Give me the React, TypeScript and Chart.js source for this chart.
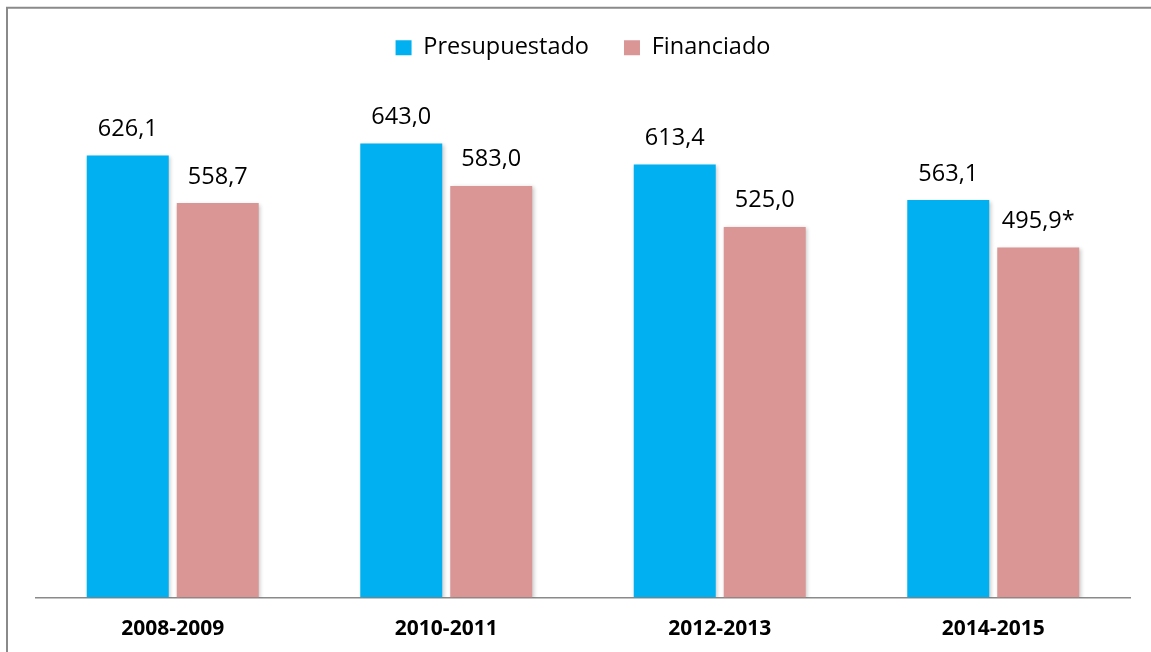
import React, { useEffect, useRef } from "react";
import { Chart, registerables } from "chart.js";

Chart.register(...registerables);

const categories = ["2008-2009", "2010-2011", "2012-2013", "2014-2015"];
const presupuestado = [626.1, 643.0, 613.4, 563.1];
const financiado = [558.7, 583.0, 525.0, 495.9];
const presupuestadoLabels = ["626,1", "643,0", "613,4", "563,1"];
const financiadoLabels = ["558,7", "583,0", "525,0", "495,9*"];
const seriesNames = ["Presupuestado", "Financiado"];

const FONT = "'Open Sans', 'Noto Sans', sans-serif";

const framePlugin = {
  id: "frame",
  afterDraw(chart: any) {
    const ctx = chart.ctx;
    ctx.save();
    ctx.strokeStyle = "#8a8a8a";
    ctx.lineWidth = 2;
    ctx.beginPath();
    ctx.moveTo(7, 660);
    ctx.lineTo(7, 7.7);
    ctx.lineTo(1160, 7.7);
    ctx.stroke();
    ctx.restore();
  },
};

const shadowPlugin = {
  id: "barShadow",
  beforeDatasetDraw(chart: any) {
    const ctx = chart.ctx;
    ctx.save();
    ctx.shadowColor = "rgba(0,0,0,0.22)";
    ctx.shadowBlur = 4;
    ctx.shadowOffsetX = 1.5;
    ctx.shadowOffsetY = 1.5;
  },
  afterDatasetDraw(chart: any) {
    chart.ctx.restore();
  },
};

const valueLabelPlugin = {
  id: "valueLabels",
  afterDatasetsDraw(chart: any) {
    const ctx = chart.ctx;
    const labelSets = [presupuestadoLabels, financiadoLabels];
    ctx.save();
    ctx.font = `23.5px ${FONT}`;
    ctx.fillStyle = "#000000";
    ctx.textAlign = "center";
    ctx.textBaseline = "alphabetic";
    chart.data.datasets.forEach((_ds: any, di: number) => {
      const meta = chart.getDatasetMeta(di);
      meta.data.forEach((bar: any, i: number) => {
        ctx.fillText(labelSets[di][i], bar.x, bar.y - 19.5);
      });
    });
    ctx.restore();
  },
};

export default function App() {
  const ref = useRef<HTMLCanvasElement | null>(null);

  useEffect(() => {
    document.body.style.margin = "0";
    if (!ref.current) return;
    const chart = new Chart(ref.current, {
      type: "bar",
      data: {
        labels: categories,
        datasets: [
          {
            label: seriesNames[0],
            data: presupuestado,
            backgroundColor: "#00B0F0",
            borderWidth: 0,
          },
          {
            label: seriesNames[1],
            data: financiado,
            backgroundColor: "#D99694",
            borderWidth: 0,
          },
        ],
      },
      options: {
        animation: false,
        responsive: false,
        maintainAspectRatio: false,
        layout: { padding: { left: 36, right: 21, top: 1, bottom: 0 } },
        datasets: {
          bar: { categoryPercentage: 0.658, barPercentage: 0.911 },
        },
        plugins: {
          tooltip: { enabled: false },
          legend: {
            position: "top",
            align: "center",
            labels: {
              boxWidth: 16,
              boxHeight: 15,
              padding: 35,
              color: "#000000",
              font: { family: FONT, size: 23.5 },
            },
          },
        },
        scales: {
          x: {
            grid: { display: false, drawTicks: false },
            border: { display: true, color: "#8a8a8a", width: 1.5 },
            ticks: {
              padding: 18.5,
              color: "#000000",
              font: { family: FONT, size: 21, weight: "bold" },
            },
            afterFit(scale: any) {
              scale.height = 54.5;
            },
          },
          y: {
            display: false,
            min: 0,
            max: 748,
          },
        },
      },
      plugins: [framePlugin, shadowPlugin, valueLabelPlugin],
    });
    return () => chart.destroy();
  }, []);

  return (
    <div style={{ width: 1151, height: 652, overflow: "hidden" }}>
      <canvas ref={ref} width={1151} height={652} style={{ display: "block" }} />
    </div>
  );
}
